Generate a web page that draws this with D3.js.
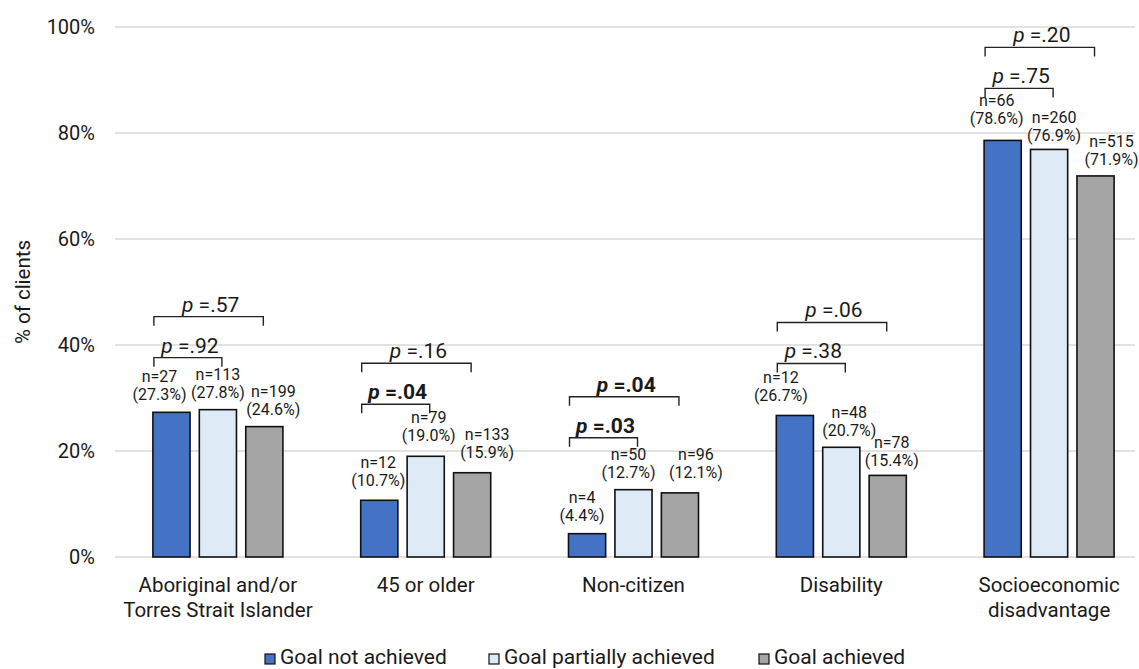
<!DOCTYPE html>
<html><head><meta charset="utf-8">
<script src="https://cdn.jsdelivr.net/npm/d3@7"></script>
<style>body{margin:0;background:#fff;} text{font-family:Roboto,"Liberation Sans",sans-serif;fill:#1a1a1a;}</style>
</head><body>
<svg id="c" width="1139" height="669"></svg>
<script>
// ---- data ----
const categories = [["Aboriginal and/or","Torres Strait Islander"],["45 or older"],["Non-citizen"],["Disability"],["Socioeconomic","disadvantage"]];
const seriesNames = ["Goal not achieved","Goal partially achieved","Goal achieved"];
const notAchieved = [27.3,10.7,4.4,26.7,78.6];
const partially   = [27.8,19.0,12.7,20.7,76.9];
const achieved    = [24.6,15.9,12.1,15.4,71.9];
const nNot = [27,12,4,12,66];
const nPartial = [113,79,50,48,260];
const nAch = [199,133,96,78,515];
const pInner = [".92",".04",".03",".38",".75"];
const pOuter = [".57",".16",".04",".06",".20"];
const pInnerSig = [false,true,true,false,false];
const pOuterSig = [false,false,true,false,false];
const yTicks = [0,20,40,60,80,100];

// ---- layout / style ----
const colors = ["#4472C4","#DEEBF7","#A5A5A5"];
const values = [notAchieved, partially, achieved];
const ns = [nNot, nPartial, nAch];
// manual data-label nudges (series x group), as placed in the original
const labelDx = [[-12,-1,-5,-14,-6],[0,3,-5,8,5],[9,15,16,4,16]];
const labelDy = [[0,-2,-1,-2,-4],[0,-3,0,1,4],[0,-3,-3,3,1]];

const svg = d3.select("#c");
const x = d3.scaleBand().domain(d3.range(categories.length)).range([114,1153]);
const xs = d3.scaleBand().domain(d3.range(3)).range([-65,65]).paddingInner(0.2);
const y = d3.scaleLinear().domain([0,100]).range([557,27]);

// gridlines
svg.append("g").selectAll("line").data(yTicks).join("line")
  .attr("x1",115).attr("x2",1135).attr("y1",d=>y(d)).attr("y2",d=>y(d))
  .attr("stroke","#d9d9d9").attr("stroke-width",1.3);

// y axis labels
const ya = svg.append("g").attr("transform","translate(95,0)")
  .call(d3.axisLeft(y).tickValues(yTicks).tickFormat(d=>d+"%").tickSize(0).tickPadding(0));
ya.select(".domain").remove();
ya.selectAll("text").style("font-size","20px").style("font-family","Roboto").attr("fill","#1a1a1a");

svg.append("text").attr("transform","translate(30,292) rotate(-90)")
  .attr("text-anchor","middle").style("font-size","20.5px").text("% of clients");

// x axis labels
const xa = svg.append("g");
categories.forEach((lines,i)=>{
  const cx = x(i)+x.bandwidth()/2;
  const t = xa.append("text").attr("text-anchor","middle").style("font-size","20.5px")
    .attr("x", cx).attr("y",592);
  lines.forEach((l,k)=>t.append("tspan").attr("x",cx).attr("dy",k?25:0).text(l));
});

// bars
const groups = svg.append("g").selectAll("g").data(categories).join("g")
  .attr("transform",(d,i)=>`translate(${x(i)+x.bandwidth()/2},0)`);
values.forEach((vals,s)=>{
  groups.append("rect")
    .attr("x",xs(s)).attr("width",xs.bandwidth())
    .attr("y",(d,i)=>y(vals[i])).attr("height",(d,i)=>y(0)-y(vals[i]))
    .attr("fill",colors[s]).attr("stroke","#111").attr("stroke-width",1.6);
  groups.append("text").attr("text-anchor","middle").style("font-size","16px")
    .attr("x",(d,i)=>xs(s)+xs.bandwidth()/2+labelDx[s][i]).attr("y",(d,i)=>y(vals[i])-30+labelDy[s][i])
    .text((d,i)=>"n="+ns[s][i]);
  groups.append("text").attr("text-anchor","middle").style("font-size","16px")
    .attr("x",(d,i)=>xs(s)+xs.bandwidth()/2+labelDx[s][i]).attr("y",(d,i)=>y(vals[i])-12+labelDy[s][i])
    .text((d,i)=>"("+vals[i].toFixed(1)+"%)");
});

// brackets
function bracket(g,x1,x2,top,label,bold){
  g.append("path").attr("d",`M${x1},${top+9}V${top}H${x2}V${top+9}`)
    .attr("fill","none").attr("stroke","#222").attr("stroke-width",1.4);
  const t = g.append("text").attr("text-anchor","middle").attr("x",(x1+x2)/2+2).attr("y",top-5)
    .style("font-size","21px").style("font-weight",bold?"bold":"normal");
  t.append("tspan").style("font-style","italic").text("p");
  t.append("tspan").text(" ="+label);
}
groups.each(function(d,i){
  const g = d3.select(this);
  const m = y(Math.max(notAchieved[i],partially[i],achieved[i]));
  const l = xs(0)+1;
  bracket(g,l,xs(1)+xs.bandwidth()/2+4,m-52,pInner[i],pInnerSig[i]);
  bracket(g,l,xs(2)+xs.bandwidth()/2-1,m-93,pOuter[i],pOuterSig[i]);
});

// legend
const legX = [265,489,759];
const lg = svg.append("g");
seriesNames.forEach((n,s)=>{
  lg.append("rect").attr("x",legX[s]).attr("y",654).attr("width",10).attr("height",10)
    .attr("fill",colors[s]).attr("stroke","#111").attr("stroke-width",1.2);
  lg.append("text").attr("x",legX[s]+15).attr("y",664).style("font-size","21px").text(n);
});
</script>
</body></html>
